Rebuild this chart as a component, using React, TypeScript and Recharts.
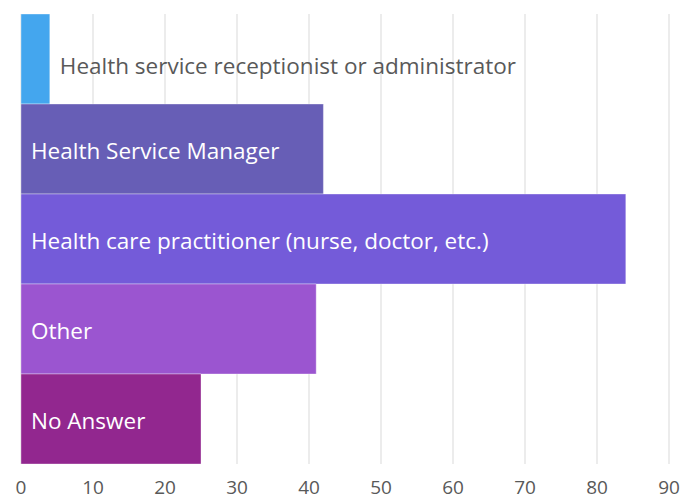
import React from 'react';
import { BarChart, Bar, XAxis, YAxis, CartesianGrid, Cell, LabelList } from 'recharts';

// Respondent roles, top to bottom
const roles = [
  'Health service receptionist or administrator',
  'Health Service Manager',
  'Health care practitioner (nurse, doctor, etc.)',
  'Other',
  'No Answer',
];
const counts = [4, 42, 84, 41, 25];
const barColors = ['#44A6EE', '#675EB6', '#745BD9', '#9B55D0', '#92278F'];
const xTicks = [0, 10, 20, 30, 40, 50, 60, 70, 80, 90];

const data = roles.map((name, i) => ({ name, value: counts[i] }));

const FONT = '"Open Sans", "Noto Sans", sans-serif';

// Label inside the bar, or just after it when the bar is too short
const BarLabel = (props: any) => {
  const { x, y, width, height, value } = props;
  const outside = width < 60;
  return (
    <text
      x={outside ? x + width + 10 : x + 10}
      y={y + height / 2 + (outside ? 6 : 1)}
      dominantBaseline="central"
      fill={outside ? '#595959' : '#ffffff'}
      fontSize={22.5}
      fontFamily={FONT}
    >
      {value}
    </text>
  );
};

export default function App() {
  return (
    <div style={{ width: 698, height: 502, background: '#fff' }}>
      <style>{'body { margin: 0; }'}</style>
      <BarChart
        width={698}
        height={502}
        data={data}
        layout="vertical"
        barCategoryGap={0}
        margin={{ top: 14, right: 29, left: 21, bottom: 0 }}
      >
        <CartesianGrid horizontal={false} stroke="#d9d9d9" />
        <XAxis
          type="number"
          domain={[0, 90]}
          ticks={xTicks}
          axisLine={false}
          tickLine={false}
          tickSize={0}
          tickMargin={17}
          height={38}
          tick={{ fill: '#595959', fontSize: 19, fontFamily: FONT }}
        />
        <YAxis type="category" dataKey="name" hide />
        <Bar dataKey="value" isAnimationActive={false} stroke="#ffffff" strokeOpacity={0.35} strokeWidth={1}>
          {data.map((d, i) => (
            <Cell key={d.name} fill={barColors[i]} />
          ))}
          <LabelList dataKey="name" content={<BarLabel />} />
        </Bar>
      </BarChart>
    </div>
  );
}
